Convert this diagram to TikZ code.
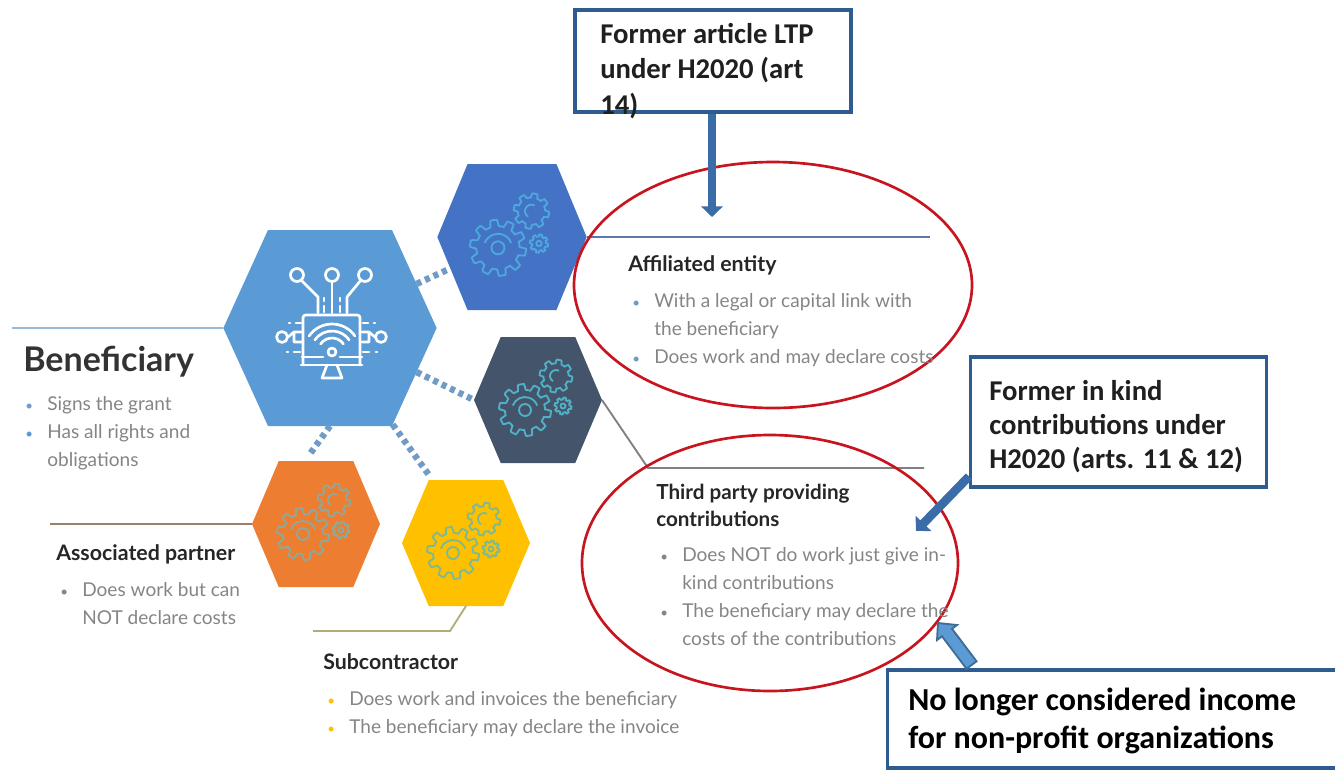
\documentclass[tikz,border=0pt]{standalone}
\usepackage{fontspec}
\setmainfont{Carlito}
\newfontfamily\slidefont{Lato}
\usetikzlibrary{shapes, arrows.meta, positioning}

\definecolor{boxblue}{HTML}{2F5C8F}
\definecolor{shaftblue}{HTML}{3A6CA8}
\definecolor{ringred}{HTML}{C8141E}
\definecolor{hexsky}{HTML}{5B9BD5}
\definecolor{hexblue}{HTML}{4472C4}
\definecolor{hexslate}{HTML}{44546A}
\definecolor{hexorange}{HTML}{ED7D31}
\definecolor{hexyellow}{HTML}{FFC000}
\definecolor{dotblue}{HTML}{6F9BC4}
\definecolor{itemgrey}{HTML}{858585}
\definecolor{gearsky}{HTML}{4DA8DC}
\definecolor{gearcyan}{HTML}{4FB0C6}
\definecolor{gearsage}{HTML}{8FA898}
\definecolor{geargreen}{HTML}{7FB98F}

\newcommand{\gearwheel}[4]{\draw[shift={(#1,#2)}] plot[domain=0:360,samples=180,variable=\t] (\t:{#3*(1+0.13*max(-1,min(1,3*sin(#4*\t))))}) -- cycle;}
\newcommand{\bul}[1]{\makebox[16.5pt][l]{\textcolor{#1}{\scalebox{0.7}{\textbullet}}}}
\newcommand{\ind}{\hspace*{16.5pt}}

\tikzset{
	hexnode/.style={signal, signal to=east and west, signal pointer angle=134, inner sep=0pt, outer sep=0pt, fill=#1},
	smallhex/.style={hexnode=#1, minimum width=96pt, minimum height=94.5pt},
	dotlink/.style={draw=dotblue, line width=4.8pt, dash pattern=on 3.8pt off 3.2pt},
	thinlink/.style={draw=#1, line width=1.4pt},
	ring/.style={draw=ringred, line width=2pt, ellipse, inner sep=0pt},
	callout/.style={draw=boxblue, line width=2.3pt, fill=white, inner sep=0pt},
	calltext/.style={align=left, inner sep=0pt, anchor=north west, text=black!88, font=\bfseries\fontsize{21.5}{25.5}\selectfont},
	heading/.style={align=left, inner sep=0pt, anchor=north west, text=black!85, font=\slidefont\bfseries\fontsize{16}{20.5}\selectfont},
	items/.style={align=left, inner sep=0pt, anchor=north west, text=itemgrey, font=\slidefont\fontsize{14.3}{21}\selectfont},
	shaft/.style={draw=shaftblue, line width=6.5pt, -{Triangle[length=8pt,width=16pt]}},
	pics/gears/.style={code={
		\begin{scope}[draw=#1, line width=1.4pt]
			\gearwheel{-13}{10}{23}{10}
			\draw (-13,10) circle (6);
			\draw (-13,10) ++(200:13) arc[start angle=200,end angle=340,radius=13];
			\gearwheel{18}{-24}{14.5}{8}
			\draw (18,-24) ++(120:6) arc[start angle=120,end angle=300,radius=6];
			\gearwheel{25}{6}{7.5}{8}
			\draw (25,6) circle (2.5);
		\end{scope}
	}},
	pics/monitor/.style={code={
		\begin{scope}[draw=white, line width=2pt, line cap=round, line join=round]
			\draw[rounded corners=2pt] (-27,37) -- (-27,-13) -- (30,-13) -- (30,37);
			\draw (-29,37) -- (32,37);
			\draw (-28,29) -- (-7,29) (10,29) -- (32,29);
			\draw (-3,37) -- (-8,50) -- (12,50) -- (7,37);
			\draw (2,24) circle (4);
			\foreach \r in {14,21,28}
				\draw (2,24) ++(215:\r) arc[start angle=215,end angle=325,radius=\r];
			\draw (-33,-53) circle (6.5) (2,-53) circle (6.5) (35,-53) circle (6.5);
			\draw (-29,-48) -- (-12,-31) -- (-12,-15);
			\draw (2,-46) -- (2,-15);
			\draw (31,-48) -- (17,-31) -- (17,-15);
			\draw (-6,-30) -- (-6,-27) (-6,-22) -- (-6,-16) (10,-30) -- (10,-27) (10,-22) -- (10,-16);
			\draw (-48,9) circle (5.5) (51,9) circle (5.5);
			\draw (-42,9) -- (-36,4) -- (-28,4) (-36,4) -- (-36,14) -- (-28,14);
			\draw (45,9) -- (39,4) -- (32,4) (39,4) -- (39,14) -- (32,14);
			\draw (-41,-5) -- (-40,-5) (-34,-5) -- (-29,-5) (44,-5) -- (45,-5) (33,-5) -- (38,-5);
			\draw (-43,24) -- (-42,24) (-36,24) -- (-30,24) (46,24) -- (47,24) (33,24) -- (39,24);
		\end{scope}
	}}
}

\begin{document}
\begin{tikzpicture}[x=0.75pt, y=-0.75pt]
	\useasboundingbox (0,0) rectangle (1335,776);

	\node[hexnode=hexsky, signal pointer angle=131, minimum width=160pt, minimum height=147pt] (ben) at (330,328) {};
	\node[smallhex=hexblue, minimum width=112pt, minimum height=109.5pt, signal pointer angle=135] (aff) at (512,237) {};
	\node[smallhex=hexslate] (third) at (538,400) {};
	\node[smallhex=hexorange] (assoc) at (316,524) {};
	\node[smallhex=hexyellow] (sub) at (466,543) {};

	\draw[dotlink] (ben.27) -- (aff.-153);
	\draw[dotlink] (ben.-27) -- (third.west);
	\draw[dotlink, shorten >=6pt] (ben.south) -- (assoc.100);
	\draw[dotlink, shorten >=3pt] (ben.-57) -- (sub.118);

	\pic at (ben) {monitor};
	\pic[scale=1.08] at (aff) {gears=gearsky};
	\pic at (third) {gears=gearcyan};
	\pic at (assoc) {gears=gearsage};
	\pic at (sub) {gears=geargreen};

	\coordinate (benend) at (12,328);
	\coordinate (affend) at (930,237);
	\coordinate (thirdbend) at (648,468);
	\coordinate (thirdend) at (924,468);
	\coordinate (assocend) at (50,524);
	\coordinate (subbend) at (450,631);
	\coordinate (subend) at (313,631);
	\draw[thinlink=dotblue!70] (ben.west) -- (benend);
	\draw[thinlink=hexblue!60!gray] (aff.east) -- (affend);
	\draw[thinlink=gray] (third.east) -- (thirdbend) -- (thirdend);
	\draw[thinlink=brown!40!gray] (assoc.west) -- (assocend);
	\draw[thinlink=olive!45!gray!70] (sub.south) -- (subbend) -- (subend);

	\node[ring, minimum width=298.5pt, minimum height=184.5pt] (affring) at (773,285) {};
	\node[ring, minimum width=282pt, minimum height=192pt] (thirdring) at (770,563) {};

	\node[inner sep=0pt, anchor=west, text=black!80, font=\slidefont\bfseries\fontsize{25.5}{28}\selectfont] (bentitle) at (23,362) {Beneficiary};
	\node[items] (benitems) at (25,396) {\bul{dotblue}Signs the grant\\\bul{hexsky}Has all rights and\\\ind obligations};
	\node[heading] (afftitle) at (628,255) {Affiliated entity};
	\node[items] (affitems) at (632,293) {\bul{dotblue}With a legal or capital link with\\\ind the beneficiary\\\bul{dotblue}Does work and may declare costs};
	\node[heading, font=\slidefont\bfseries\fontsize{15.5}{20.5}\selectfont] (thirdtitle) at (656,484) {Third party providing\\contributions};
	\node[items] (thirditems) at (660,547) {\bul{itemgrey}Does NOT do work just give in-\\\ind kind contributions\\\bul{itemgrey}The beneficiary may declare the\\\ind costs of the contributions};
	\node[heading] (assoctitle) at (56,544) {Associated partner};
	\node[items] (assocItems) at (60,582) {\bul{itemgrey}Does work but can\\\ind NOT declare costs};
	\node[heading] (subtitle) at (323,653) {Subcontractor};
	\node[items] (subitems) at (327,691) {\bul{hexyellow}Does work and invoices the beneficiary\\\bul{hexyellow}The beneficiary may declare the invoice};

	\node[callout, minimum width=207pt, minimum height=76.5pt] (ltpbox) at (713,61) {};
	\node[calltext, font=\bfseries\fontsize{21.5}{26.5}\selectfont] (ltptext) at (600,23) {Former article LTP\\under H2020 (art\\14)};
	\node[callout, minimum width=222pt, minimum height=97.5pt] (kindbox) at (1118.5,422) {};
	\node[calltext] (kindtext) at (989,380) {Former in kind\\contributions under\\H2020 (arts. 11 \& 12)};
	\node[callout, minimum width=340pt, minimum height=73.5pt] (incomebox) at (1114,719) {};
	\node[calltext, text=black, font=\bfseries\fontsize{24}{28.5}\selectfont] (incometext) at (908,688) {No longer considered income\\for non-profit organizations};

	\coordinate (afftip) at (712,217);
	\coordinate (kindtip) at (916,531);
	\draw[shaft] (ltpbox.south -| afftip) -- (afftip);
	\draw[shaft] (kindbox.200) -- (kindtip);

	\draw[draw=hexsky!70!black, fill=hexsky, line width=1.4pt, line join=miter] (938,623) -- (957,625) -- (952,628.75) -- (976.5,661.25) -- (966.5,668.75) -- (942,636.25) -- (937,640) -- cycle;
\end{tikzpicture}
\end{document}
